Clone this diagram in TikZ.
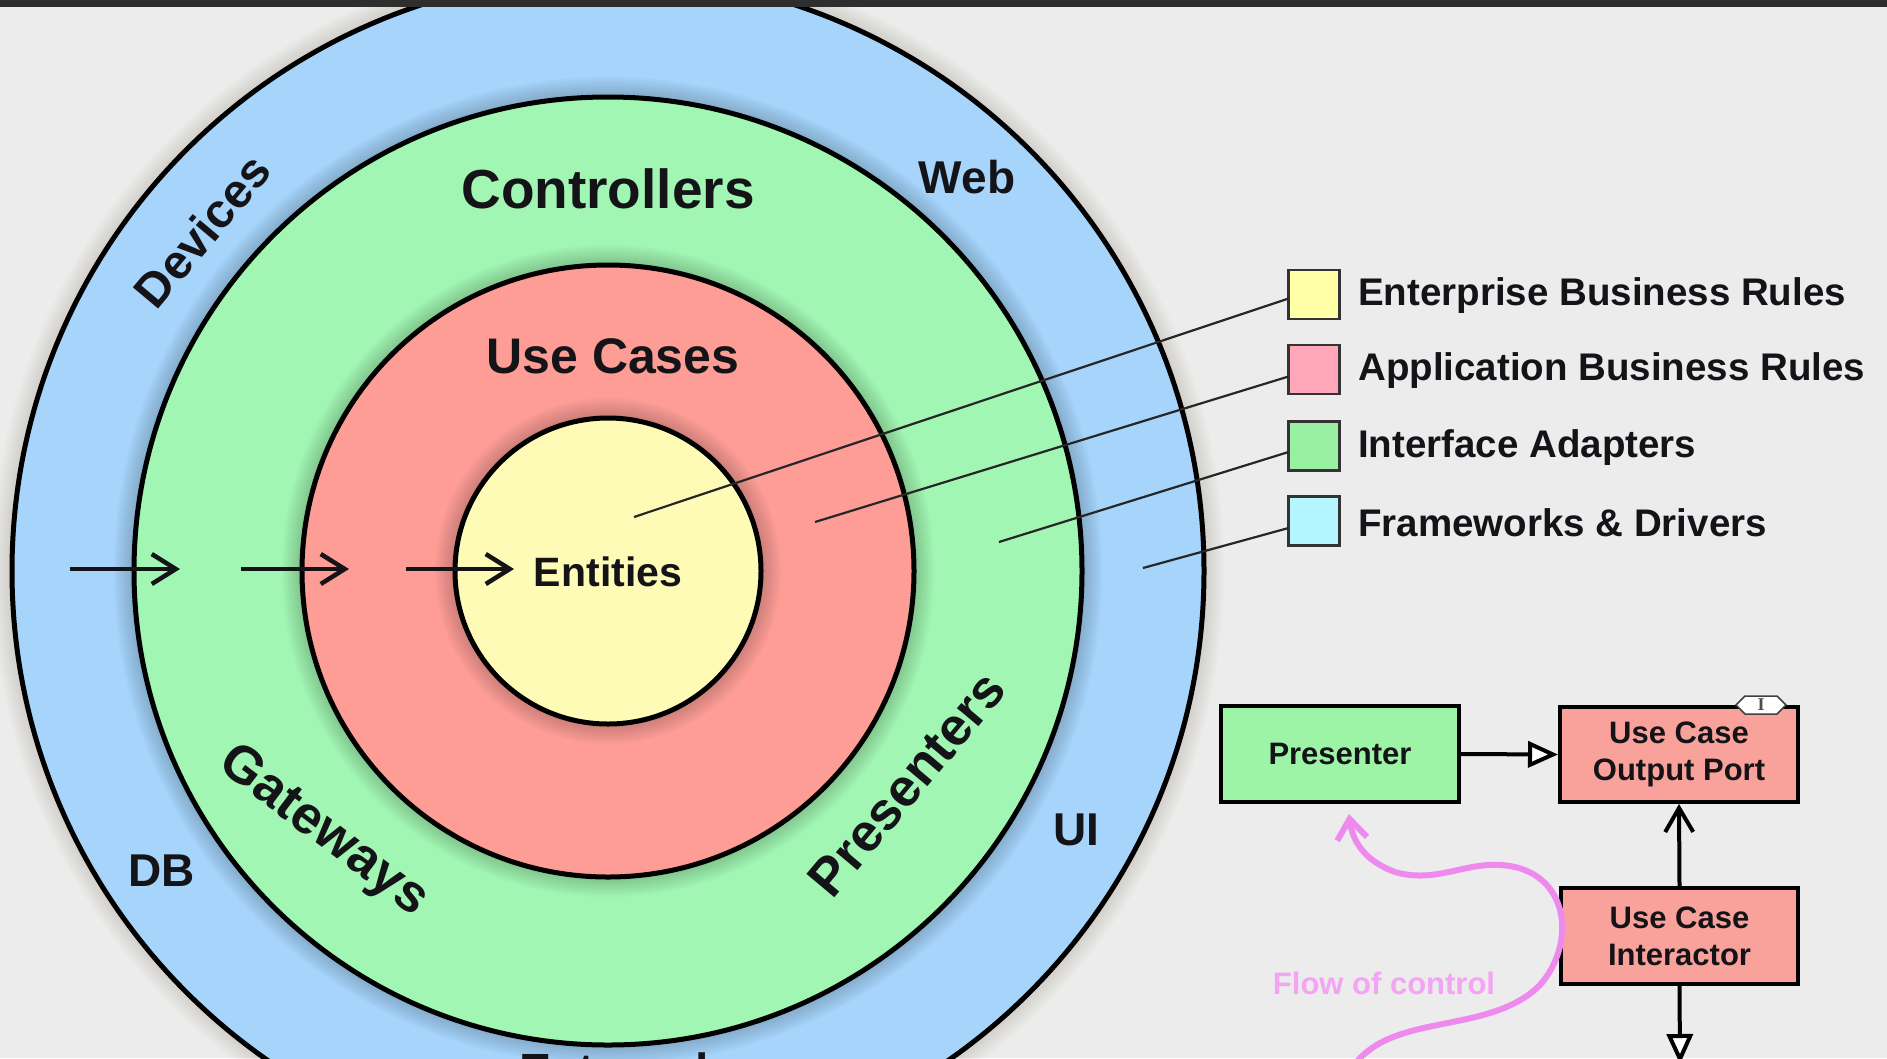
\documentclass[tikz,border=0pt]{standalone}
\usepackage{fontspec}
\setmainfont{Liberation Sans}
\newfontfamily\serifmark{Liberation Serif}
\usetikzlibrary{arrows.meta,shapes.symbols}
\definecolor{bg}{HTML}{ECECEC}
\definecolor{topbar}{HTML}{2E2E2E}
\definecolor{ringblue}{HTML}{A6D4FA}
\definecolor{ringgreen}{HTML}{A2F6B4}
\definecolor{ringred}{HTML}{FD9D96}
\definecolor{ringyellow}{HTML}{FEFBB6}
\definecolor{lgyellow}{HTML}{FFFFA8}
\definecolor{lgpink}{HTML}{FFA6B9}
\definecolor{lggreen}{HTML}{99F0A2}
\definecolor{lgcyan}{HTML}{B4F6FF}
\definecolor{boxgreen}{HTML}{9EF4A6}
\definecolor{boxred}{HTML}{F9A19B}
\definecolor{flow}{HTML}{EE8AEE}
\definecolor{flowtext}{HTML}{F3A4F3}
\definecolor{ink}{HTML}{141418}
\definecolor{halo}{HTML}{8A7060}
\newcommand{\myfs}[1]{\fontsize{#1}{#1}\selectfont\bfseries}
\begin{document}
\begin{tikzpicture}[x=1pt,y=-1pt,
  ring/.style={circle, draw=black, line width=5pt, inner sep=0pt, outer sep=0pt, minimum size=#1},
  lbl/.style={font=\myfs{#1}, text=ink, inner sep=0pt},
  ringarrow/.style={draw=ink, line width=4.5pt, -{Straight Barb[length=24pt,width=30pt]}},
  sq/.style={draw=black!80, line width=2.5pt, minimum width=51pt, minimum height=49pt, inner sep=0pt, outer sep=0pt},
  lgtext/.style={font=\myfs{38.5}, text=ink, inner sep=0pt, anchor=west},
  leader/.style={draw=black!85, line width=2.2pt},
  box/.style={draw=black, line width=4pt, inner sep=0pt, align=center, text=ink, font=\fontsize{31}{37}\selectfont\bfseries},
  tri/.style={draw=black, line width=4pt, -{Triangle[length=30pt,width=26pt,fill=white]}},
  barb/.style={draw=black, line width=4pt, -{Straight Barb[length=24pt,width=28pt]}},
  flowline/.style={draw=flow, line width=6pt, line cap=round, -{Straight Barb[length=20pt,width=30pt]}}
]
\path[use as bounding box, clip] (0,0) rectangle (1887,1058);
\fill[bg] (0,0) rectangle (1887,1058);
\coordinate (c) at (608,571);
% outer halo
\foreach \k in {1,...,10} \fill[halo, opacity=0.025] (c) circle[radius={596+2*\k}];
\node[ring=1192pt, fill=ringblue] (outer) at (c) {};
\foreach \k in {1,...,10} \fill[black, opacity=0.018] (c) circle[radius={474+2*\k}];
\node[ring=948pt, fill=ringgreen] (green) at (c) {};
\foreach \k in {1,...,10} \fill[black, opacity=0.018] (c) circle[radius={306+2*\k}];
\node[ring=612pt, fill=ringred] (red) at (c) {};
\foreach \k in {1,...,10} \fill[black, opacity=0.018] (c) circle[radius={153+2*\k}];
\node[ring=306pt, fill=ringyellow] (yellow) at (c) {};

% ring labels
\node[lbl=55] (controllers) at (608,189) {Controllers};
\node[lbl=50] (usecases) at (613,356) {Use Cases};
\node[lbl=41] (entities) at (608,572) {Entities};
\node[lbl=46] (web) at (967,177) {Web};
\node[lbl=46] (ui) at (1076,830) {UI};
\node[lbl=46] (db) at (162,871) {DB};
\node[lbl=48, rotate=50] (devices) at (202,231) {Devices};
\node[lbl=53, rotate=-37] (gateways) at (323,832) {Gateways};
\node[lbl=53, rotate=50] (presenters) at (907,784) {Presenters};
\node[lbl=48, anchor=base] (external) at (614,1087) {External};

% dependency arrows
\coordinate (a1s) at (70,569);  \coordinate (a1e) at (180,569);
\coordinate (a2s) at (241,569); \coordinate (a2e) at (349,569);
\coordinate (a3s) at (406,569); \coordinate (a3e) at (514,569);
\draw[ringarrow] (a1s) -- (a1e);
\draw[ringarrow] (a2s) -- (a2e);
\draw[ringarrow] (a3s) -- (a3e);

% legend
\node[sq, fill=lgyellow] (sq1) at (1314,294.5) {};
\node[sq, fill=lgpink]   (sq2) at (1314,369.5) {};
\node[sq, fill=lggreen]  (sq3) at (1314,446) {};
\node[sq, fill=lgcyan]   (sq4) at (1314,521) {};
\node[lgtext] (t1) at (1358,296) {Enterprise Business Rules};
\node[lgtext] (t2) at (1358,371) {Application Business Rules};
\node[lgtext] (t3) at (1358,447.5) {Interface Adapters};
\node[lgtext] (t4) at (1358,522.5) {Frameworks \& Drivers};
\coordinate (e1) at (634,517);
\coordinate (e2) at (815,522);
\coordinate (e3) at (999,542);
\coordinate (e4) at (1143,568);
\draw[leader] ([yshift=-4pt]sq1.west) -- (e1);
\draw[leader] ([yshift=-7pt]sq2.west) -- (e2);
\draw[leader] ([yshift=-6pt]sq3.west) -- (e3);
\draw[leader] ([yshift=-7pt]sq4.west) -- (e4);

% flow of control diagram
\node[box, fill=boxgreen, minimum width=238pt, minimum height=96pt] (pres) at (1340,754) {Presenter};
\node[box, fill=boxred, minimum width=238pt, minimum height=95pt] (outp) at (1679,754.5) {Use Case\\Output Port};
\node[box, fill=boxred, minimum width=237pt, minimum height=96pt] (inter) at (1679.5,936) {Use Case\\Interactor};
\node[signal, signal to=west and east, draw=black!75, fill=white, line width=1.5pt, inner sep=0pt,
      minimum width=50pt, minimum height=18pt, text=black!70, font=\serifmark\fontsize{18}{18}\selectfont\bfseries] (iface) at (1761,705) {I};
\coordinate (dn) at (1680,1064);
\draw[tri] (pres.east) -- (outp.west);
\draw[barb] (inter.north) -- (outp.south);
\draw[tri] (inter.south) -- (dn);
\node[font=\myfs{31}, text=flowtext, inner sep=0pt] (flowlbl) at (1384,983) {Flow of control};
\coordinate (f0) at (1355,1064);
\coordinate (fend) at ([xshift=9pt,yshift=-10pt]pres.south);
\draw[flowline] (f0) .. controls (1395,1012) and (1490,1035) .. (1540,985)
  .. controls (1575,945) and (1570,880) .. (1515,867)
  .. controls (1470,857) and (1440,885) .. (1395,872)
  .. controls (1362,860) and (1352,838) .. (fend);

% top bar
\fill[topbar] (0,0) rectangle (1887,7);
\end{tikzpicture}
\end{document}
